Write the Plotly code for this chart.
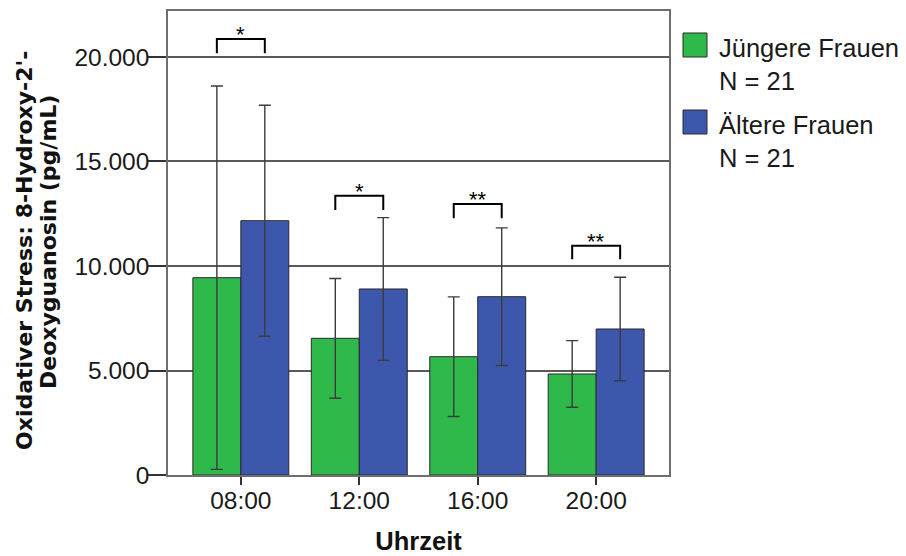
import plotly.graph_objects as go

categories = ["08:00", "12:00", "16:00", "20:00"]
young_mean = [9440, 6540, 5660, 4833]
young_err = [9170, 2865, 2860, 1595]
old_mean = [12167, 8900, 8531, 6986]
old_err = [5525, 3415, 3295, 2475]
sig_labels = ["*", "*", "**", "**"]
sig_top = [20860, 13360, 12970, 10970]
sig_bottom = [20180, 12680, 12280, 10320]
legend_names = ["Jüngere Frauen<br>N = 21", "Ältere Frauen<br>N = 21"]
y_title_lines = ["Oxidativer Stress: 8-Hydroxy-2'-", "Deoxyguanosin (pg/mL)"]
x_title = "Uhrzeit"
y_ticks = [0, 5000, 10000, 15000, 20000]

GREEN = "#2fb94a"
BLUE = "#3d57ac"
FONT = "Liberation Sans, Arial, sans-serif"
PAGE_OFF = 8  # default body margin of the html page
W, H = 906 - PAGE_OFF, 556 - PAGE_OFF
L, T = 168 - PAGE_OFF, 11 - PAGE_OFF
R = W - L - 501
B = H - T - 464

x_idx = list(range(len(categories)))

fig = go.Figure()
for name, means, errs, col in [
    (legend_names[0], young_mean, young_err, GREEN),
    (legend_names[1], old_mean, old_err, BLUE),
]:
    fig.add_trace(go.Bar(
        x=x_idx, y=means, name=name, marker=dict(color=col, line=dict(color="#2a2a2a", width=1)),
        error_y=dict(type="data", array=errs, visible=True, color="#3c3c3c", thickness=1.4, width=6),
        showlegend=False,
    ))

# significance brackets
off = 0.2025
for i, (lab, top, bot) in enumerate(zip(sig_labels, sig_top, sig_bottom)):
    fig.add_trace(go.Scatter(
        x=[i - off, i - off, i + off, i + off], y=[bot, top, top, bot],
        mode="lines", line=dict(color="black", width=2), showlegend=False, hoverinfo="skip",
    ))
    fig.add_annotation(x=i, y=top, text=lab, showarrow=False, yanchor="bottom",
                       yshift=-10, font=dict(family=FONT, size=22, color="black"))

pw = W - L - R
ph = H - T - B
def px_x(px):
    return (px - PAGE_OFF - L) / pw
def px_y(py):
    return (H - B - (py - PAGE_OFF)) / ph

# legend drawn manually to match large swatches
for (name, col, top_px) in [(legend_names[0], GREEN, 33), (legend_names[1], BLUE, 110)]:
    fig.add_shape(type="rect", xref="paper", yref="paper",
                  x0=px_x(683), x1=px_x(707), y0=px_y(top_px + 24), y1=px_y(top_px),
                  fillcolor=col, line=dict(color="#2a2a2a", width=1))
    fig.add_annotation(xref="paper", yref="paper", x=px_x(717), y=px_y(top_px - 1),
                       xanchor="left", yanchor="top", align="left", showarrow=False,
                       text=name, font=dict(family=FONT, size=25.5, color="#1a1a1a"))

# y axis title (two rotated lines, tight leading as in the reference)
for line, cx, cy in [(y_title_lines[0], 25, 251), (y_title_lines[1], 49, 242)]:
    fig.add_annotation(xref="paper", yref="paper", x=px_x(cx), y=px_y(cy),
                       xanchor="center", yanchor="middle", textangle=-90, showarrow=False,
                       text="<b>" + line + "</b>",
                       font=dict(family="DejaVu Sans, sans-serif", size=22, color="#111"))

fig.update_layout(
    width=W, height=H,
    margin=dict(l=L, r=R, t=T, b=B, autoexpand=False),
    paper_bgcolor="white", plot_bgcolor="white",
    barmode="group", bargap=0.19, bargroupgap=0,
    separators=",.",
    font=dict(family=FONT, size=24, color="#1a1a1a"),
    showlegend=False,
)
fig.update_xaxes(
    automargin=False,
    tickmode="array", tickvals=x_idx, ticktext=categories,
    range=[-0.615, 3.615],
    showline=True, mirror=True, linecolor="#6e6e6e", linewidth=1.5,
    ticks="outside", ticklen=8, tickwidth=1.5, tickcolor="#333", ticklabelstandoff=-5,
    showgrid=False, zeroline=False,
    tickfont=dict(family=FONT, size=24.5, color="#1a1a1a"),
    title=dict(text="<b>" + x_title + "</b>", font=dict(family=FONT, size=25.5, color="#111"), standoff=19),
)
fig.update_yaxes(
    automargin=False,
    range=[0, 22200], tickvals=y_ticks, tickformat=",d",
    showline=True, mirror=True, linecolor="#6e6e6e", linewidth=1.5,
    ticks="outside", ticklen=18, tickwidth=1.5, tickcolor="#333", ticklabelstandoff=-6,
    showgrid=True, gridcolor="#5a5a5a", gridwidth=1.5, zeroline=False,
    tickfont=dict(family=FONT, size=24.5, color="#1a1a1a"),
)

fig.write_html("out.html")
